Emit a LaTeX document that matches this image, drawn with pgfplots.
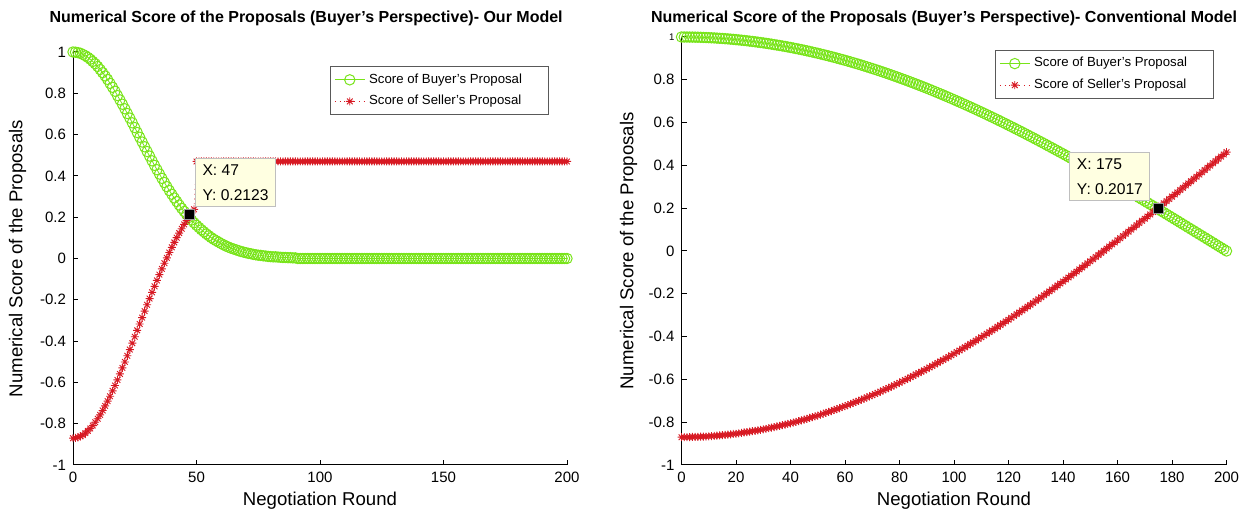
\documentclass[border=0pt]{standalone}
\usepackage{fontspec}
\setmainfont{Liberation Sans}
\usepackage{pgfplots}
\pgfplotsset{compat=1.18}
\usepackage{pgfplotstable}

\definecolor{buyer}{RGB}{120,228,25}
\definecolor{seller}{RGB}{215,25,35}
\definecolor{tipfill}{RGB}{255,255,225}

% 8-arm asterisk (plus and cross), like the MATLAB '*' marker
\pgfdeclareplotmark{ast8}{%
  \pgfpathmoveto{\pgfpointpolar{0}{\pgfplotmarksize}}\pgfpathlineto{\pgfpointpolar{180}{\pgfplotmarksize}}%
  \pgfpathmoveto{\pgfpointpolar{90}{\pgfplotmarksize}}\pgfpathlineto{\pgfpointpolar{270}{\pgfplotmarksize}}%
  \pgfpathmoveto{\pgfpointpolar{45}{\pgfplotmarksize}}\pgfpathlineto{\pgfpointpolar{225}{\pgfplotmarksize}}%
  \pgfpathmoveto{\pgfpointpolar{135}{\pgfplotmarksize}}\pgfpathlineto{\pgfpointpolar{315}{\pgfplotmarksize}}%
  \pgfusepathqstroke}

% our model: round, buyer score, seller score
\pgfplotstableread[row sep=\\]{
x b s\\
0 1.000 -0.870\\ 1 0.999 -0.869\\ 2 0.997 -0.866\\ 3 0.994 -0.861\\ 4 0.988 -0.855\\
5 0.982 -0.846\\ 6 0.974 -0.835\\ 7 0.965 -0.823\\ 8 0.954 -0.809\\ 9 0.943 -0.793\\
10 0.930 -0.776\\ 11 0.915 -0.757\\ 12 0.900 -0.736\\ 13 0.884 -0.714\\ 14 0.867 -0.691\\
15 0.848 -0.667\\ 16 0.829 -0.641\\ 17 0.810 -0.615\\ 18 0.789 -0.588\\ 19 0.768 -0.559\\
20 0.747 -0.530\\ 21 0.725 -0.501\\ 22 0.702 -0.471\\ 23 0.680 -0.441\\ 24 0.657 -0.410\\
25 0.634 -0.379\\ 26 0.610 -0.348\\ 27 0.587 -0.317\\ 28 0.564 -0.286\\ 29 0.541 -0.255\\
30 0.518 -0.224\\ 31 0.496 -0.194\\ 32 0.473 -0.164\\ 33 0.451 -0.135\\ 34 0.430 -0.106\\
35 0.409 -0.078\\ 36 0.388 -0.050\\ 37 0.368 -0.023\\ 38 0.348 0.003\\ 39 0.329 0.029\\
40 0.311 0.054\\ 41 0.293 0.078\\ 42 0.276 0.101\\ 43 0.259 0.123\\ 44 0.243 0.144\\
45 0.228 0.165\\ 46 0.213 0.184\\ 47 0.199 0.203\\ 48 0.186 0.221\\ 49 0.173 0.238\\
50 0.161 0.47\\ 51 0.150 0.47\\ 52 0.139 0.47\\ 53 0.129 0.47\\ 54 0.119 0.47\\
55 0.110 0.47\\ 56 0.101 0.47\\ 57 0.093 0.47\\ 58 0.086 0.47\\ 59 0.079 0.47\\
60 0.072 0.47\\ 61 0.066 0.47\\ 62 0.060 0.47\\ 63 0.055 0.47\\ 64 0.050 0.47\\
65 0.046 0.47\\ 66 0.042 0.47\\ 67 0.038 0.47\\ 68 0.034 0.47\\ 69 0.031 0.47\\
70 0.028 0.47\\ 71 0.025 0.47\\ 72 0.023 0.47\\ 73 0.020 0.47\\ 74 0.018 0.47\\
75 0.016 0.47\\ 76 0.015 0.47\\ 77 0.013 0.47\\ 78 0.012 0.47\\ 79 0.010 0.47\\
80 0.009 0.47\\ 81 0.008 0.47\\ 82 0.008 0.47\\ 83 0.007 0.47\\ 84 0.006 0.47\\
85 0.005 0.47\\ 86 0.005 0.47\\ 87 0.004 0.47\\ 88 0.004 0.47\\ 89 0.003 0.47\\
90 0.003 0.47\\ 91 0 0.47\\ 92 0 0.47\\ 93 0 0.47\\ 94 0 0.47\\
95 0 0.47\\ 96 0 0.47\\ 97 0 0.47\\ 98 0 0.47\\ 99 0 0.47\\
100 0 0.47\\ 101 0 0.47\\ 102 0 0.47\\ 103 0 0.47\\ 104 0 0.47\\
105 0 0.47\\ 106 0 0.47\\ 107 0 0.47\\ 108 0 0.47\\ 109 0 0.47\\
110 0 0.47\\ 111 0 0.47\\ 112 0 0.47\\ 113 0 0.47\\ 114 0 0.47\\
115 0 0.47\\ 116 0 0.47\\ 117 0 0.47\\ 118 0 0.47\\ 119 0 0.47\\
120 0 0.47\\ 121 0 0.47\\ 122 0 0.47\\ 123 0 0.47\\ 124 0 0.47\\
125 0 0.47\\ 126 0 0.47\\ 127 0 0.47\\ 128 0 0.47\\ 129 0 0.47\\
130 0 0.47\\ 131 0 0.47\\ 132 0 0.47\\ 133 0 0.47\\ 134 0 0.47\\
135 0 0.47\\ 136 0 0.47\\ 137 0 0.47\\ 138 0 0.47\\ 139 0 0.47\\
140 0 0.47\\ 141 0 0.47\\ 142 0 0.47\\ 143 0 0.47\\ 144 0 0.47\\
145 0 0.47\\ 146 0 0.47\\ 147 0 0.47\\ 148 0 0.47\\ 149 0 0.47\\
150 0 0.47\\ 151 0 0.47\\ 152 0 0.47\\ 153 0 0.47\\ 154 0 0.47\\
155 0 0.47\\ 156 0 0.47\\ 157 0 0.47\\ 158 0 0.47\\ 159 0 0.47\\
160 0 0.47\\ 161 0 0.47\\ 162 0 0.47\\ 163 0 0.47\\ 164 0 0.47\\
165 0 0.47\\ 166 0 0.47\\ 167 0 0.47\\ 168 0 0.47\\ 169 0 0.47\\
170 0 0.47\\ 171 0 0.47\\ 172 0 0.47\\ 173 0 0.47\\ 174 0 0.47\\
175 0 0.47\\ 176 0 0.47\\ 177 0 0.47\\ 178 0 0.47\\ 179 0 0.47\\
180 0 0.47\\ 181 0 0.47\\ 182 0 0.47\\ 183 0 0.47\\ 184 0 0.47\\
185 0 0.47\\ 186 0 0.47\\ 187 0 0.47\\ 188 0 0.47\\ 189 0 0.47\\
190 0 0.47\\ 191 0 0.47\\ 192 0 0.47\\ 193 0 0.47\\ 194 0 0.47\\
195 0 0.47\\ 196 0 0.47\\ 197 0 0.47\\ 198 0 0.47\\ 199 0 0.47\\
200 0 0.47\\
}\ourmodel

% conventional model
\pgfplotstableread[row sep=\\]{
x b s\\
0 1.0000 -0.870\\ 1 0.9999 -0.870\\ 2 0.9999 -0.870\\ 3 0.9997 -0.870\\ 4 0.9995 -0.869\\
5 0.9992 -0.869\\ 6 0.9989 -0.869\\ 7 0.9985 -0.868\\ 8 0.9980 -0.867\\ 9 0.9975 -0.867\\
10 0.9969 -0.866\\ 11 0.9963 -0.865\\ 12 0.9956 -0.864\\ 13 0.9948 -0.863\\ 14 0.9939 -0.862\\
15 0.9931 -0.861\\ 16 0.9921 -0.859\\ 17 0.9911 -0.858\\ 18 0.9900 -0.857\\ 19 0.9889 -0.855\\
20 0.9877 -0.854\\ 21 0.9864 -0.852\\ 22 0.9851 -0.850\\ 23 0.9837 -0.848\\ 24 0.9823 -0.846\\
25 0.9808 -0.844\\ 26 0.9792 -0.842\\ 27 0.9776 -0.840\\ 28 0.9759 -0.838\\ 29 0.9742 -0.836\\
30 0.9723 -0.833\\ 31 0.9705 -0.831\\ 32 0.9686 -0.828\\ 33 0.9666 -0.825\\ 34 0.9645 -0.823\\
35 0.9624 -0.820\\ 36 0.9603 -0.817\\ 37 0.9580 -0.814\\ 38 0.9558 -0.811\\ 39 0.9534 -0.808\\
40 0.9511 -0.805\\ 41 0.9486 -0.802\\ 42 0.9461 -0.798\\ 43 0.9435 -0.795\\ 44 0.9409 -0.791\\
45 0.9382 -0.788\\ 46 0.9354 -0.784\\ 47 0.9326 -0.780\\ 48 0.9297 -0.776\\ 49 0.9268 -0.773\\
50 0.9239 -0.769\\ 51 0.9208 -0.765\\ 52 0.9177 -0.760\\ 53 0.9146 -0.756\\ 54 0.9114 -0.752\\
55 0.9081 -0.748\\ 56 0.9048 -0.743\\ 57 0.9014 -0.739\\ 58 0.8980 -0.734\\ 59 0.8945 -0.729\\
60 0.8910 -0.725\\ 61 0.8874 -0.720\\ 62 0.8838 -0.715\\ 63 0.8800 -0.710\\ 64 0.8763 -0.705\\
65 0.8725 -0.700\\ 66 0.8686 -0.695\\ 67 0.8647 -0.690\\ 68 0.8607 -0.684\\ 69 0.8567 -0.679\\
70 0.8526 -0.674\\ 71 0.8485 -0.668\\ 72 0.8443 -0.663\\ 73 0.8401 -0.657\\ 74 0.8358 -0.651\\
75 0.8315 -0.646\\ 76 0.8271 -0.640\\ 77 0.8226 -0.634\\ 78 0.8181 -0.628\\ 79 0.8136 -0.622\\
80 0.8090 -0.616\\ 81 0.8043 -0.609\\ 82 0.7997 -0.603\\ 83 0.7949 -0.597\\ 84 0.7901 -0.590\\
85 0.7853 -0.584\\ 86 0.7804 -0.577\\ 87 0.7755 -0.571\\ 88 0.7705 -0.564\\ 89 0.7655 -0.558\\
90 0.7604 -0.551\\ 91 0.7553 -0.544\\ 92 0.7501 -0.537\\ 93 0.7449 -0.530\\ 94 0.7396 -0.523\\
95 0.7343 -0.516\\ 96 0.7290 -0.509\\ 97 0.7235 -0.502\\ 98 0.7181 -0.495\\ 99 0.7126 -0.487\\
100 0.7071 -0.480\\ 101 0.7015 -0.472\\ 102 0.6959 -0.465\\ 103 0.6902 -0.457\\ 104 0.6845 -0.450\\
105 0.6788 -0.442\\ 106 0.6730 -0.434\\ 107 0.6672 -0.427\\ 108 0.6613 -0.419\\ 109 0.6554 -0.411\\
110 0.6494 -0.403\\ 111 0.6435 -0.395\\ 112 0.6374 -0.387\\ 113 0.6313 -0.379\\ 114 0.6252 -0.371\\
115 0.6191 -0.363\\ 116 0.6129 -0.354\\ 117 0.6067 -0.346\\ 118 0.6004 -0.338\\ 119 0.5941 -0.329\\
120 0.5878 -0.321\\ 121 0.5814 -0.312\\ 122 0.5750 -0.304\\ 123 0.5685 -0.295\\ 124 0.5621 -0.287\\
125 0.5556 -0.278\\ 126 0.5490 -0.269\\ 127 0.5424 -0.260\\ 128 0.5358 -0.252\\ 129 0.5292 -0.243\\
130 0.5225 -0.234\\ 131 0.5158 -0.225\\ 132 0.5090 -0.216\\ 133 0.5023 -0.207\\ 134 0.4954 -0.198\\
135 0.4886 -0.189\\ 136 0.4817 -0.180\\ 137 0.4748 -0.170\\ 138 0.4679 -0.161\\ 139 0.4610 -0.152\\
140 0.4540 -0.143\\ 141 0.4470 -0.133\\ 142 0.4399 -0.124\\ 143 0.4329 -0.115\\ 144 0.4258 -0.105\\
145 0.4187 -0.096\\ 146 0.4115 -0.086\\ 147 0.4043 -0.077\\ 148 0.3971 -0.067\\ 149 0.3899 -0.057\\
150 0.3827 -0.048\\ 151 0.3754 -0.038\\ 152 0.3681 -0.028\\ 153 0.3608 -0.019\\ 154 0.3535 -0.009\\
155 0.3461 0.001\\ 156 0.3387 0.011\\ 157 0.3313 0.021\\ 158 0.3239 0.031\\ 159 0.3165 0.040\\
160 0.3090 0.050\\ 161 0.3015 0.060\\ 162 0.2940 0.070\\ 163 0.2865 0.080\\ 164 0.2790 0.090\\
165 0.2714 0.100\\ 166 0.2639 0.110\\ 167 0.2563 0.121\\ 168 0.2487 0.131\\ 169 0.2411 0.141\\
170 0.2334 0.151\\ 171 0.2258 0.161\\ 172 0.2181 0.171\\ 173 0.2105 0.182\\ 174 0.2028 0.192\\
175 0.1951 0.202\\ 176 0.1874 0.212\\ 177 0.1797 0.223\\ 178 0.1719 0.233\\ 179 0.1642 0.243\\
180 0.1564 0.254\\ 181 0.1487 0.264\\ 182 0.1409 0.274\\ 183 0.1331 0.285\\ 184 0.1253 0.295\\
185 0.1175 0.306\\ 186 0.1097 0.316\\ 187 0.1019 0.326\\ 188 0.0941 0.337\\ 189 0.0863 0.347\\
190 0.0785 0.357\\ 191 0.0706 0.368\\ 192 0.0628 0.378\\ 193 0.0549 0.389\\ 194 0.0471 0.399\\
195 0.0393 0.410\\ 196 0.0314 0.420\\ 197 0.0236 0.431\\ 198 0.0157 0.441\\ 199 0.0079 0.451\\
200 0.0000 0.462\\
}\convmodel

\tikzset{
  tipbox/.style={draw=black!25, fill=tipfill, align=left, line width=0.5pt,
    font=\fontsize{7.8}{12.5}\selectfont, inner xsep=3.5pt, inner ysep=3pt},
}

\pgfplotsset{
  negot/.style={
    scale only axis, clip=false,
    axis x line*=bottom, axis y line*=left,
    axis line style={-, line width=0.5pt},
    tick align=inside, major tick length=2.5pt,
    tick style={black, line width=0.5pt},
    xmin=0, xmax=200, ymin=-1, ymax=1,
    ytick={-1,-0.8,-0.6,-0.4,-0.2,0,0.2,0.4,0.6,0.8,1},
    /pgf/number format/assume math mode=true,
    tick label style={font=\fontsize{7.5}{9}\selectfont},
    label style={font=\fontsize{9.3}{11}\selectfont},
    xlabel={Negotiation Round},
    ylabel={Numerical Score of the Proposals},
    title style={font=\bfseries\fontsize{8}{10}\selectfont, anchor=center, yshift=-6.5pt},
    legend cell align=left,
    legend style={font=\fontsize{6.6}{8}\selectfont, draw=black!65, line width=0.5pt,
      inner xsep=2pt, inner ysep=1.5pt, row sep=0.5pt, anchor=north west},
    legend image code/.code={\draw[mark repeat=2,mark phase=2]
      plot coordinates {(0pt,0pt) (7.5pt,0pt) (15pt,0pt)};},
  },
  buyerplot/.style={color=buyer, line width=0.4pt, mark=o, mark size=2.6pt, mark options={solid, line width=0.5pt}},
  sellerplot/.style={color=seller, dotted, line width=0.4pt, mark=ast8, mark size=2pt, mark options={solid, line width=0.45pt}},
  tipmark/.style={only marks, forget plot, mark=square*, mark size=2.5pt,
    mark options={fill=black, draw=black!40, line width=0.3pt}},
}

\begin{document}
\begin{tikzpicture}
\useasboundingbox (0,0) rectangle (622.5pt,258.5pt);

% left: our model
\begin{axis}[negot,
  at={(36.5pt,26pt)}, anchor=south west, width=247pt, height=206.5pt,
  xtick={0,50,100,150,200}, xticklabels={0,50,100,150,200},
  yticklabels={-1,-0.8,-0.6,-0.4,-0.2,0,0.2,0.4,0.6,0.8,1},
  title={Numerical Score of the Proposals (Buyer's Perspective)- Our Model},
  title style={at={(axis description cs:0.472,1.085)}},
  xlabel style={at={(axis description cs:0.5,-0.087)}, anchor=center},
  ylabel style={at={(axis description cs:-0.112,0.5)}, anchor=center},
  legend style={at={(axis description cs:0.52,0.966)}},
]
\addplot[buyerplot] table[x=x, y=b] {\ourmodel};
\addlegendentry{Score of Buyer's Proposal\kern9pt}
\addplot[sellerplot] table[x=x, y=s] {\ourmodel};
\addlegendentry{Score of Seller's Proposal\kern9pt}
\addplot[tipmark] coordinates {(47,0.2123)};
\coordinate (tipL) at (axis cs:47,0.2123);
\end{axis}

% right: conventional model
\begin{axis}[negot,
  at={(340.75pt,26pt)}, anchor=south west, width=272.5pt, height=214pt,
  xtick={0,20,40,60,80,100,120,140,160,180,200},
  xticklabels={0,20,40,60,80,100,120,140,160,180,200},
  yticklabels={-1,-0.8,-0.6,-0.4,-0.2,0,0.2,0.4,0.6,0.8,{\fontsize{4.8}{6}\selectfont 1}},
  title={Numerical Score of the Proposals (Buyer's Perspective)- Conventional Model},
  title style={at={(axis description cs:0.4817,1.047)}},
  xlabel style={at={(axis description cs:0.5,-0.084)}, anchor=center},
  ylabel style={at={(axis description cs:-0.097,0.5)}, anchor=center},
  legend style={at={(axis description cs:0.575,0.97)}},
]
\addplot[buyerplot] table[x=x, y=b] {\convmodel};
\addlegendentry{Score of Buyer's Proposal\kern9pt}
\addplot[sellerplot] table[x=x, y=s] {\convmodel};
\addlegendentry{Score of Seller's Proposal\kern9pt}
\addplot[tipmark] coordinates {(175,0.2017)};
\coordinate (tipR) at (axis cs:175,0.2017);
\end{axis}

% data tips, drawn over the curves
\node[tipbox, anchor=south west, xshift=3pt, yshift=4pt] at (tipL) {X: 47\\Y: 0.2123};
\node[tipbox, anchor=south east, xshift=-4pt, yshift=3.5pt] at (tipR) {X: 175\\Y: 0.2017};
\end{tikzpicture}
\end{document}
